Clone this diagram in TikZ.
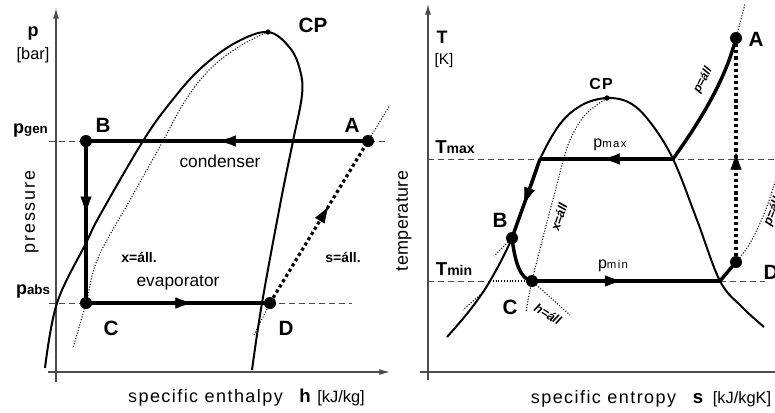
\documentclass[tikz,border=0pt]{standalone}
\usepackage{fontspec}
\setmainfont{Liberation Sans}
\usetikzlibrary{arrows.meta,calc}

\begin{document}
\begin{tikzpicture}[
  x=0.75pt, y=-0.75pt,
  axis/.style={draw=black!70, line width=0.9pt},
  axtip/.style={-{Latex[length=8pt,width=4.5pt]}},
  cyc/.style={line width=2.6pt},
  sat/.style={line width=1.5pt},
  guide/.style={line width=0.7pt, draw=black!70, dash pattern=on 4.5pt off 3pt},
  iso/.style={line width=0.8pt, dash pattern=on 0.8pt off 1.3pt},
  fatdot/.style={line width=2.4pt, dash pattern=on 2.4pt off 2.2pt},
  dot/.style={circle, fill, inner sep=0pt, minimum size=9pt},
  cpdot/.style={circle, fill, inner sep=0pt, minimum size=4pt},
  tipline/.style={line width=0.4pt, -{Latex[length=13pt,width=8.5pt]}},
  ptlab/.style={font=\fontsize{15.5}{17}\selectfont\bfseries},
  axtitle/.style={font=\fontsize{13.5}{15}\selectfont\addfontfeatures{LetterSpace=#1}},
  unit/.style={font=\fontsize{12.3}{14}\selectfont},
  isolab/.style={font=\fontsize{10.5}{12}\selectfont\bfseries},
  rotlab/.style={font=\fontsize{9.5}{11}\selectfont\bfseries\itshape}
]
\useasboundingbox (0,0) rectangle (775,412);

% ---------- p-h diagram ----------
\draw[axis,axtip] (56,382) -- (56,8);
\draw[axis,axtip] (48,372) -- (390,372);
\draw[guide] (49,141) -- (388,141);
\draw[guide] (49,303) -- (352,303);

% saturation dome and x = const
\draw[sat] plot[smooth, tension=0.6] coordinates {(45,368) (57,303) (86,243)
  (100,215) (143,141) (170,103) (200,69) (235,43) (268,32) (290,48) (300,70)
  (302,95) (293,141) (281,200) (262,303) (252,370)};
\draw[iso] plot[smooth, tension=0.6] coordinates {(268,32) (240,46) (210,69)
  (185,101) (163,141) (130,200) (98,258) (86,303) (73,348)};

\node[dot] (A) at (368,141) {};
\node[dot] (B) at (86,141) {};
\node[dot] (C) at (86,303) {};
\node[dot] (D) at (270,303) {};
\node[cpdot] (CP) at (268,32) {};

\draw[iso] (254,335) -- (D.center);
\draw[iso] (A.center) -- (390,105);
\draw[cyc] (A.center) -- (B.center);
\draw[cyc] (B.center) -- (C.center);
\draw[cyc] (C.center) -- (D.center);
\draw[fatdot] (D.center) -- (A.center);
% arrows in the middle of the strokes
\draw[tipline] ($(A.center)!0.52!(B.center)$) -- ($(A.center)!0.53!(B.center)$);
\draw[tipline] ($(B.center)!0.44!(C.center)$) -- ($(B.center)!0.45!(C.center)$);
\draw[tipline] ($(C.center)!0.57!(D.center)$) -- ($(C.center)!0.58!(D.center)$);
\draw[tipline] ($(D.center)!0.59!(A.center)$) -- ($(D.center)!0.6!(A.center)$);

\node[ptlab] at (352,125) {A};
\node[ptlab] at (103,125) {B};
\node[ptlab] at (111,328) {C};
\node[ptlab] at (286,328) {D};
\node[ptlab] at (313,25) {CP};

\node[font=\fontsize{13.5}{15}\selectfont\bfseries, anchor=base] at (33,36) {p};
\node[unit] at (33,55) {[bar]};
\node[font=\fontsize{13.5}{15}\selectfont\bfseries, anchor=base] at (30.5,133)
  {p{\fontsize{10}{12}\selectfont gen}};
\node[font=\fontsize{13.5}{15}\selectfont\bfseries, anchor=base] at (33,294)
  {p{\fontsize{10}{12}\selectfont abs}};
\node[axtitle=10, rotate=90] at (32,212) {pressure};
\node[font=\fontsize{13}{15}\selectfont] at (220,161) {condenser};
\node[font=\fontsize{13}{15}\selectfont] at (178,283) {evaporator};
\node[isolab] at (139,257) {x=áll.};
\node[isolab] at (343,257) {s=áll.};
\node[axtitle=8, anchor=base] at (205.5,402) {specific enthalpy};
\node[font=\fontsize{14}{16}\selectfont\bfseries, anchor=base] at (305,402) {h};
\node[unit, anchor=base] at (341,402) {[kJ/kg]};

% ---------- T-s diagram ----------
\draw[axis,axtip] (428,380) -- (428,4);
\draw[axis,axtip] (420,372) -- (790,372);
\draw[guide] (428,159) -- (775,159);
\draw[guide] (428,281) -- (490,281);
\draw[guide] (720,281) -- (765,281);

\draw[sat] plot[smooth, tension=0.6] coordinates {(447,337) (470,310) (490,281)
  (512,238) (528,192) (540,159) (560,124) (582,105) (607,98) (630,103) (650,122)
  (673,159) (697,220) (720,281) (742,307) (764,327)};
\draw[iso] plot[smooth, tension=0.6] coordinates {(607,98) (585,115) (570,140)
  (562,165) (555,192) (547,222) (532,281) (526,312)};

\node[dot] (A2) at (736,38) {};
\node[dot] (B2) at (512,238) {};
\node[dot] (C2) at (532,281) {};
\node[dot] (D2) at (736,262) {};
\node[cpdot] (CP2) at (607,98) {};
\coordinate (E2) at (673,159);
\coordinate (F2) at (540,159);
\coordinate (G2) at (720,281);

\draw[iso] (490,281) -- (C2.center);
\draw[iso] (C2.center) -- (570,315);
\draw[iso] (B2.center) -- (494,256);
\draw[iso] (482,293) -- (463,310);
\draw[iso] (A2.center) -- (745,4);
\draw[iso] (D2.center) .. controls (755,242) and (770,205) .. (784,150);

\draw[cyc] (E2) .. controls (695,128) and (724,85) .. (A2.center);
\draw[cyc] (E2) -- (F2);
\draw[cyc] (F2) .. controls (531,186) and (521,212) .. (B2.center);
\draw[cyc] (B2.center) .. controls (515,262) and (520,279) .. (C2.center);
\draw[cyc] (C2.center) -- (G2);
\draw[cyc] (G2) -- (D2.center);
\draw[fatdot] (D2.center) -- (A2.center);
% arrows in the middle of the strokes
\draw[tipline] ($(E2)!0.52!(F2)$) -- ($(E2)!0.53!(F2)$);
\draw[tipline] ($(F2)!0.57!(B2.center)$) -- ($(F2)!0.58!(B2.center)$);
\draw[tipline] ($(C2.center)!0.47!(G2)$) -- ($(C2.center)!0.48!(G2)$);
\draw[tipline] ($(D2.center)!0.48!(A2.center)$) -- ($(D2.center)!0.49!(A2.center)$);

\node[ptlab] at (756,39) {A};
\node[ptlab] at (500,220) {B};
\node[ptlab] at (510,307) {C};
\node[ptlab] at (771,272) {D};
\node[font=\fontsize{12}{14}\selectfont\bfseries\addfontfeatures{LetterSpace=8}] at (601,84) {CP};

\node[font=\fontsize{13.5}{15}\selectfont\bfseries] at (442,37) {T};
\node[font=\fontsize{11.5}{13}\selectfont] at (444,61) {[K]};
\node[font=\fontsize{14}{16}\selectfont\bfseries, anchor=base] at (455,153)
  {T{\fontsize{10.5}{12}\selectfont max}};
\node[font=\fontsize{14}{16}\selectfont\bfseries, anchor=base] at (454,275)
  {T{\fontsize{10.5}{12}\selectfont min}};
\node[axtitle=2, rotate=90] at (404,221) {temperature};
\node[font=\fontsize{12}{14}\selectfont, anchor=base] at (610,147)
  {p{\fontsize{8.5}{10}\selectfont\addfontfeatures{LetterSpace=12}max}};
\node[font=\fontsize{12}{14}\selectfont, anchor=base] at (613,268)
  {p{\fontsize{8.5}{10}\selectfont\addfontfeatures{LetterSpace=12}min}};
\node[rotlab, rotate=72] at (559,217) {x=áll};
\node[rotlab, rotate=62, font=\fontsize{9}{11}\selectfont\bfseries\itshape] at (703,80) {p=áll};
\node[rotlab, rotate=68] at (773,212) {p=áll};
\node[rotlab, rotate=-32] at (548,314) {h=áll};
\node[axtitle=8, anchor=base] at (603.5,403) {specific entropy};
\node[font=\fontsize{14}{16}\selectfont\bfseries, anchor=base] at (698,403) {s};
\node[unit, anchor=base] at (742,403) {[kJ/kgK]};
\end{tikzpicture}
\end{document}
